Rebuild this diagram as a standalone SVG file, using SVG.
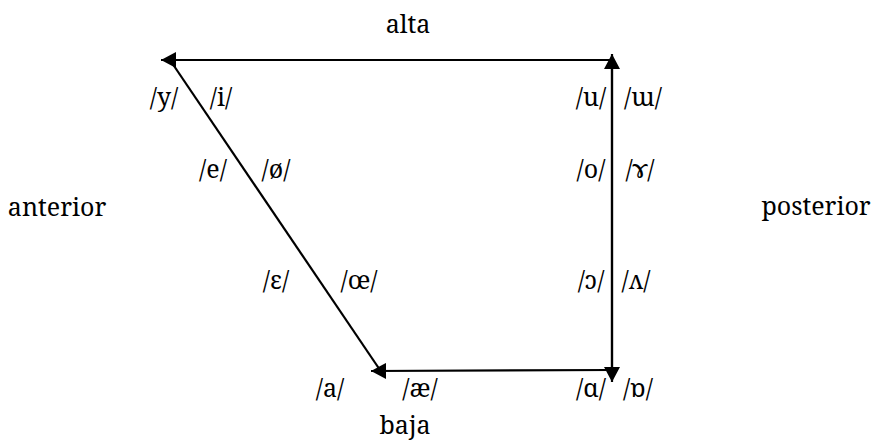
<svg xmlns="http://www.w3.org/2000/svg" width="874" height="441" viewBox="0 0 874 441">
<style>
.ln{stroke:#000;stroke-width:2.2;fill:none}
.t{font-family:"Noto Serif","DejaVu Serif","Liberation Serif",serif;font-size:25px;fill:#000;text-anchor:middle}
</style>
<defs>
<marker id="ah" viewBox="0 0 15 16" markerWidth="15" markerHeight="16" refX="15" refY="8" orient="auto" markerUnits="userSpaceOnUse">
<path d="M0,0 L15,8 L0,16 z" fill="#000"/>
</marker>
</defs>
<rect width="874" height="441" fill="#fff"/>
<g id="connectors">
<path class="ln" d="M612,60 L161,60" marker-end="url(#ah)"/>
<path class="ln" d="M612,370 L612,54" marker-end="url(#ah)"/>
<path class="ln" d="M612,60 L612,382" marker-end="url(#ah)"/>
<path class="ln" d="M612,370 L371,371" marker-end="url(#ah)"/>
<path class="ln" d="M170,60 L380,370"/>
</g>
<g id="axis-labels" class="t">
<text id="alta" x="408" y="33">alta</text>
<text id="anterior" x="57" y="216">anterior</text>
<text id="posterior" x="816" y="215">posterior</text>
<text id="baja" x="405" y="434">baja</text>
</g>
<g id="vowels" class="t">
<text x="164" y="106">/y/</text>
<text x="221" y="106">/i/</text>
<text x="591" y="106">/u/</text>
<text x="643" y="106">/ɯ/</text>
<text x="213" y="178">/e/</text>
<text x="276" y="178">/ø/</text>
<text x="591" y="178">/o/</text>
<text x="640" y="178">/ɤ/</text>
<text x="276" y="289">/ɛ/</text>
<text x="359" y="289">/œ/</text>
<text x="591" y="289">/ɔ/</text>
<text x="636" y="289">/ʌ/</text>
<text x="330" y="397">/a/</text>
<text x="420" y="397">/æ/</text>
<text x="591" y="397">/ɑ/</text>
<text x="638" y="397">/ɒ/</text>
</g>
</svg>
